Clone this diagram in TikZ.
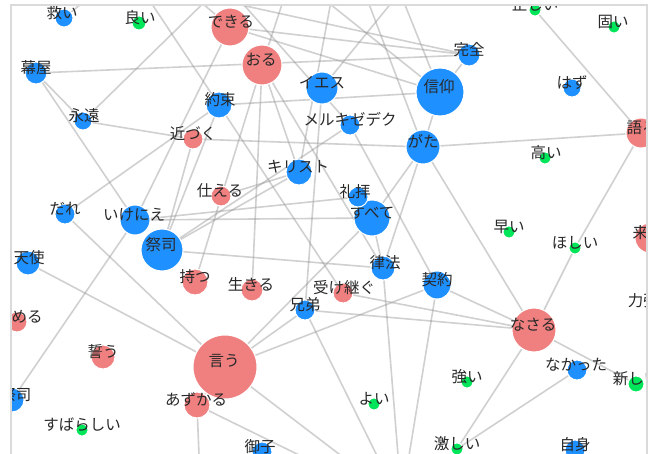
\documentclass[tikz,border=0pt]{standalone}
\usepackage{fontspec}
\newfontfamily\jp{Noto Sans CJK JP}
\definecolor{nb}{RGB}{30,144,255}
\definecolor{nr}{RGB}{240,128,128}
\definecolor{ng}{RGB}{0,230,90}
\definecolor{edgec}{RGB}{150,150,150}
\definecolor{framec}{RGB}{218,218,218}
\definecolor{txt}{RGB}{40,40,40}
\pgfdeclarelayer{bg}
\pgfsetlayers{bg,main}
\tikzset{
  dot/.style={circle, draw=white, line width=1pt, inner sep=0pt},
  lbl/.style={font=\jp\fontsize{15.5}{16}\selectfont, text=txt, inner sep=0pt, anchor=center},
  edge/.style={draw=edgec, line width=1.6pt, draw opacity=0.45},
  framel/.style={draw=framec, line width=1.4pt}
}
% \gn{name}{x}{y}{r}{colour}{label}{label x}
\newcommand\gn[7]{%
  \node[dot, fill=#5, minimum size=2*#4pt] (#1) at (#2,#3) {};
  \node[lbl] (#1-t) at (#7,{#3-5.5}) {#6};}
\begin{document}
\begin{tikzpicture}[x=1pt,y=-1pt]
\useasboundingbox (0,0) rectangle (652,454);
\begin{scope}
\clip (11,5) rectangle (647,470);
\gn{sukui}{64}{18}{9}{nb}{救い}{62}
\gn{yoi}{139}{23}{7}{ng}{良い}{140}
\gn{dekiru}{230}{27}{19}{nr}{できる}{231}
\gn{oru}{262}{65}{20}{nr}{おる}{261}
\gn{makuya}{36}{73}{11}{nb}{幕屋}{36}
\gn{eien}{83}{121}{9}{nb}{永遠}{84}
\gn{chikazuku}{193}{139}{10}{nr}{近づく}{193}
\gn{yakusoku}{219}{105}{13}{nb}{約束}{220}
\gn{iesu}{322}{88}{16}{nb}{イエス}{322}
\gn{meru}{350}{125}{10}{nb}{メルキゼデク}{350}
\gn{shinko}{440}{92}{24}{nb}{信仰}{439}
\gn{kanzen}{469}{55}{11}{nb}{完全}{469}
\gn{gata}{423}{147}{17}{nb}{がた}{423}
\gn{tadashii}{535}{10}{6}{ng}{正しい}{535}
\gn{katai}{614}{27}{6}{ng}{固い}{613}
\gn{hazu}{572}{88}{9}{nb}{はず}{572}
\gn{kataru}{641}{133}{15}{nr}{語る}{642}
\gn{takai}{545}{158}{6}{ng}{高い}{546}
\gn{kirisuto}{299}{172}{13}{nb}{キリスト}{298}
\gn{tsukaeru}{221}{196}{10}{nr}{仕える}{220}
\gn{subete}{372}{218}{18}{nb}{すべて}{372}
\gn{reihai}{358}{197}{10}{nb}{礼拝}{355}
\gn{dare}{65}{214}{10}{nb}{だれ}{65}
\gn{ikenie}{135}{220}{15}{nb}{いけにえ}{134}
\gn{saishi}{162}{250}{21}{nb}{祭司}{161}
\gn{tenshi}{28}{263}{12}{nb}{天使}{29}
\gn{motsu}{195}{282}{13}{nr}{持つ}{195}
\gn{ikiru}{252}{290}{11}{nr}{生きる}{251}
\gn{uketsugu}{343}{293}{10}{nr}{受け継ぐ}{344}
\gn{kyodai}{305}{310}{10}{nb}{兄弟}{305}
\gn{rippo}{383}{268}{12}{nb}{律法}{385}
\gn{keiyaku}{437}{285}{14}{nb}{契約}{437}
\gn{hayai}{509}{232}{6}{ng}{早い}{509}
\gn{hoshii}{575}{248}{6}{ng}{ほしい}{575}
\gn{kuru}{650}{238}{15}{nr}{来る}{648}
\gn{chikarazuyoi}{652}{306}{6}{ng}{力強い}{651}
\gn{meru2}{17}{322}{10}{nr}{める}{27}
\gn{chikau}{103}{357}{12}{nr}{誓う}{103}
\gn{iu}{225}{367}{32}{nr}{言う}{224}
\gn{azukaru}{197}{405}{13}{nr}{あずかる}{196}
\gn{saishib}{12}{400}{12}{nb}{祭司}{16}
\gn{subarashii}{82}{430}{6}{ng}{すばらしい}{82}
\gn{miko}{262}{452}{10}{nb}{御子}{260}
\gn{yoi2}{374}{404}{6}{ng}{よい}{374}
\gn{nasaru}{534}{330}{22}{nr}{なさる}{533}
\gn{nakatta}{577}{370}{10}{nb}{なかった}{576}
\gn{atarashii}{636}{384}{8}{ng}{新しい}{636}
\gn{tsuyoi}{467}{382}{6}{ng}{強い}{467}
\gn{hageshii}{457}{449}{6}{ng}{激しい}{457}
\gn{jishin}{575}{450}{10}{nb}{自身}{575}
\coordinate (o1) at (110,-20);
\coordinate (o2) at (136,-20);
\coordinate (o3) at (227,-20);
\coordinate (o4) at (222,-20);
\coordinate (o5) at (175,-20);
\coordinate (o6) at (300,-20);
\coordinate (o7) at (360,-20);
\coordinate (o8) at (395,-20);
\coordinate (o9) at (335,-20);
\coordinate (o10) at (410,-20);
\coordinate (o11) at (290,-20);
\coordinate (o12) at (150,-15);
\coordinate (u1) at (389,480);
\coordinate (u2) at (400,480);
\coordinate (u3) at (405,480);
\coordinate (u4) at (373,480);
\coordinate (u5) at (200,480);
\coordinate (u6) at (350,480);
\end{scope}
\begin{pgfonlayer}{bg}
\clip (11,5) rectangle (647,470);
\foreach \a/\b in {makuya/kanzen, makuya/eien, makuya/ikenie, eien/chikazuku,
  chikazuku/gata, gata/kataru, yakusoku/shinko, kanzen/shinko, shinko/gata,
  gata/rippo, gata/subete, gata/nasaru, tadashii/kataru, kataru/hoshii,
  hoshii/nasaru, keiyaku/nasaru, uketsugu/nasaru, kyodai/nasaru,
  nasaru/atarashii, nasaru/hageshii, nakatta/hageshii, iu/keiyaku, iu/kyodai,
  iu/subete, iu/azukaru, dare/iu, tenshi/iu, ikenie/saishib, ikenie/subete,
  ikenie/reihai, saishi/rippo, oru/motsu, oru/ikiru, oru/kirisuto, oru/rippo,
  kyodai/iesu, uketsugu/yakusoku, meru/keiyaku, rippo/subete, dekiru/kanzen,
  dekiru/shinko, dekiru/ikenie, chikazuku/saishi, yakusoku/saishi,
  yakusoku/dare, saishi/kirisuto, saishi/meru, tsukaeru/kirisuto,
  sukui/o1, yakusoku/o2, eien/o3, meru/o4, dekiru/o5, shinko/o6, gata/o7,
  shinko/o8, kirisuto/o9, iesu/o10, oru/o11, kanzen/o12,
  kyodai/u1, rippo/u2, keiyaku/u3, iu/u4, azukaru/u5, azukaru/u6}
  {\draw[edge] (\a) -- (\b);}
\end{pgfonlayer}
\draw[framel] (11,470) -- (11,5) -- (647,5) -- (647,470);
\end{tikzpicture}
\end{document}
